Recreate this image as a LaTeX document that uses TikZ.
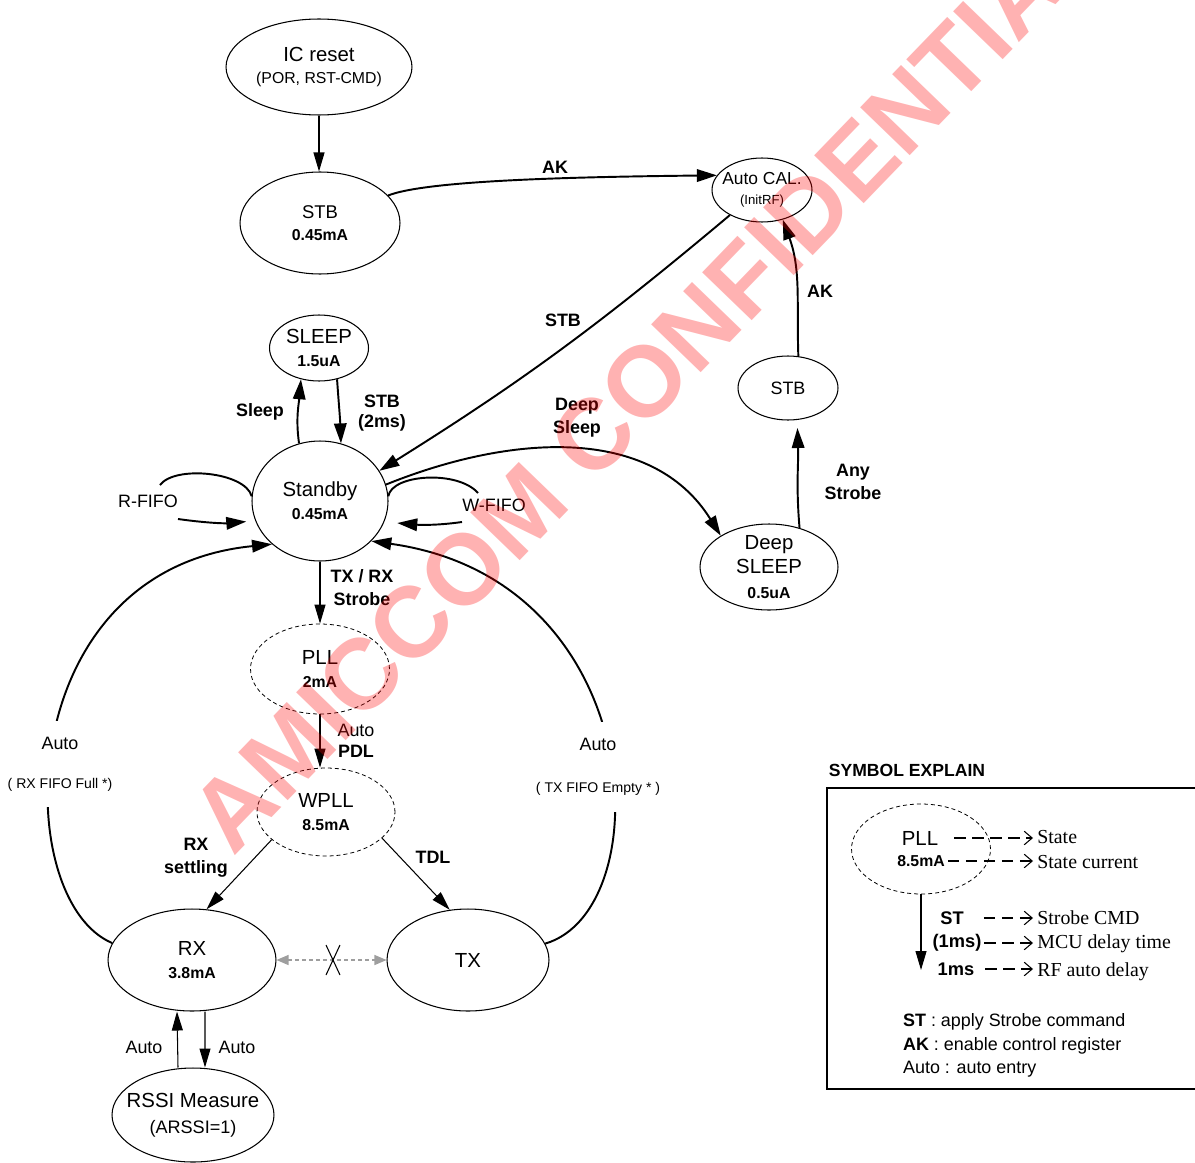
\documentclass[tikz,border=0pt]{standalone}
\usepackage{fontspec}
\setmainfont{Liberation Sans}
\newfontfamily\legserif{Liberation Serif}
\usetikzlibrary{shapes.geometric,arrows.meta}
\definecolor{wmred}{RGB}{255,0,0}
\definecolor{lgray}{RGB}{158,158,158}
\newcommand{\stcur}[1]{{\fontsize{9}{10}\selectfont\bfseries #1}}

\begin{document}
\begin{tikzpicture}[x=0.02cm,y=0.02cm,
  state/.style={draw,ellipse,line width=0.6pt,inner sep=0pt,align=center,
    font=\fontsize{11.6}{13}\selectfont},
  pstate/.style={state,line width=0.45pt,dash pattern=on 0.08cm off 0.06cm},
  esize/.style 2 args={minimum width=#1cm,minimum height=#2cm},
  lbl/.style={font=\fontsize{10.2}{13}\selectfont\bfseries,align=center,inner sep=1pt},
  rlbl/.style={font=\fontsize{10.2}{13}\selectfont,align=center,inner sep=1pt},
  arr/.style={line width=1.1pt,-{Triangle[length=0.4cm,width=0.25cm]}},
  arrthin/.style={line width=0.6pt,-{Triangle[length=0.38cm,width=0.22cm]}},
  loopline/.style={line width=1.1pt},
  dasharr/.style={line width=0.6pt,dash pattern=on 0.23cm off 0.13cm,
    -{Straight Barb[length=0.16cm,width=0.27cm]}},
  legtxt/.style={font=\legserif\fontsize{11.3}{13}\selectfont,anchor=west,inner sep=0pt}]

\useasboundingbox (0,0) rectangle (1195,-1162);
\clip (0,0) rectangle (1195,-1162);

% states
\node[state,esize={3.72}{1.92}] (ic) at (319,-67)
  {IC reset\\{\fontsize{9}{10}\selectfont (POR, RST-CMD)}};
\node[state,esize={3.2}{2.04},font=\fontsize{10.5}{12.5}\selectfont] (stbA) at (320,-223)
  {STB\\\stcur{0.45mA}};
\node[state,esize={2.0}{1.28},inner xsep=-3pt,font=\fontsize{9.9}{11.3}\selectfont] (cal) at (762,-190)
  {Auto CAL.\\{\fontsize{7.5}{8}\selectfont (InitRF)}};
\node[state,esize={1.98}{1.32}] (sleep) at (319,-348) {SLEEP\\\stcur{1.5uA}};
\node[state,esize={2.72}{2.4}] (stby) at (320,-501) {Standby\\\stcur{0.45mA}};
\node[state,esize={2.0}{1.28},font=\fontsize{10.2}{12}\selectfont] (stbR) at (788,-388) {STB};
\node[state,esize={2.76}{1.72},inner ysep=-4pt,font=\fontsize{11.6}{14}\selectfont] (deep) at (769,-567)
  {Deep\\SLEEP\\\stcur{0.5uA}};
\node[pstate,esize={2.78}{1.8}] (pll) at (320,-669) {PLL\\\stcur{2mA}};
\node[pstate,esize={2.76}{1.76}] (wpll) at (326,-812) {WPLL\\\stcur{8.5mA}};
\node[state,esize={3.36}{2.04}] (rx) at (192,-960) {RX\\\stcur{3.8mA}};
\node[state,esize={3.24}{2.04}] (tx) at (468,-960) {TX};
\node[state,esize={3.24}{1.88},inner xsep=-6pt,font=\fontsize{11.6}{15}\selectfont] (rssi) at (193,-1115)
  {RSSI Measure\\{\fontsize{10.3}{12}\selectfont (ARSSI=1)}};

% transitions
\draw[arrthin] (ic.south) -- (ic.south |- stbA.north);
\draw[arr] (stbA.22) .. controls (425,-181) and (560,-177) .. (cal.162);
\node[lbl] (lak1) at (555,-167) {AK};
\draw[arr] (cal.218) to[out=220,in=32] (stby.27);
\node[lbl] (lstb1) at (563,-320) {STB};
\draw[arr] (stbR.72) to[out=92,in=-70] (cal.-55);
\node[lbl] (lak2) at (820,-291) {AK};
\draw[arr,shorten >=0.16cm] (deep.52) to[out=95,in=-88] (stbR.-74);
\node[lbl] (lany) at (853,-482) {Any\\Strobe};
\draw[arr] (stby.14) to[out=22,in=122] (deep.147);
\node[lbl] (ldeep) at (577,-418) {Deep\\Sleep};
\draw[arr] (stby.110) to[out=98,in=-95] (sleep.240);
\node[lbl] (lsleep) at (260,-412) {Sleep};
\draw[arr] (sleep.300) to[out=-86,in=92] (stby.70);
\node[lbl] (lstb2) at (382,-413) {STB\\[-2pt](2ms)};

% FIFO loops
\node[rlbl] (rfifo) at (148,-501) {R-FIFO};
\coordinate (rf1) at (160,-485);
\coordinate (rf2) at (178,-519);
\draw[loopline] (stby.176) .. controls (245,-472) and (175,-465) .. (rf1);
\draw[arr,shorten >=0.18cm] (rf2) to[out=-8,in=185] (stby.197);
\node[rlbl] (wfifo) at (494,-505) {W-FIFO};
\coordinate (wf1) at (478,-493);
\coordinate (wf2) at (462,-522);
\draw[loopline] (stby.4) .. controls (392,-474) and (458,-470) .. (wf1);
\draw[arr,shorten >=0.26cm] (wf2) to[out=188,in=-5] (stby.-18);

% TX / RX path
\draw[arrthin] (stby.south) -- (pll.north);
\node[lbl] (lstrobe) at (362,-588) {TX / RX\\Strobe};
\draw[arrthin] (pll.south) -- (pll.south |- wpll.north);
\node[rlbl] (lpdl) at (356,-741) {Auto\\[-1pt]\textbf{PDL}};
\draw[arrthin] (wpll.207) -- (rx.74);
\node[lbl] (lrxs) at (196,-858) {RX\\settling};
\draw[arrthin] (wpll.-25) -- (tx.110);
\node[lbl] (ltdl) at (433,-857) {TDL};

\draw[arr] (rx.168) .. controls (10,-900) and (10,-570) .. (stby.222);
\node[rlbl,fill=white,inner ysep=9pt] (lrxf) at (60,-764)
  {Auto\\[9pt]{\fontsize{8}{9}\selectfont ( RX FIFO Full *)}};
\draw[arr] (tx.12) .. controls (660,-910) and (650,-580) .. (stby.-38);
\node[rlbl,fill=white,inner ysep=9pt] (ltxe) at (598,-767)
  {Auto\\[11pt]{\fontsize{8}{9}\selectfont ( TX FIFO Empty * )}};

\draw[lgray,line width=0.6pt,dash pattern=on 0.08cm off 0.06cm,
  {Triangle[length=0.24cm,width=0.2cm]}-{Triangle[length=0.24cm,width=0.2cm]}] (rx.east) -- (tx.west);
\coordinate (xm) at (333,-960);
\draw[line width=0.6pt] (xm) ++(-7,15) -- ++(14,-30);
\draw[line width=0.6pt] (xm) ++(7,15) -- ++(-14,-30);

\draw[arrthin] ([xshift=0.26cm]rx.south) -- ([xshift=0.24cm]rssi.north);
\draw[arrthin] ([xshift=-0.3cm]rssi.north) -- ([xshift=-0.3cm]rx.south);
\node[rlbl] (lauto1) at (144,-1047) {Auto};
\node[rlbl] (lauto2) at (237,-1047) {Auto};

% symbol explain
\node[font=\fontsize{10}{12}\selectfont\bfseries] (symt) at (907,-770) {SYMBOL EXPLAIN};
\draw[line width=0.8pt] (827,-788) rectangle (1215,-1089);
\node[pstate,esize={2.78}{1.8}] (legell) at (921,-849) {};
\node[font=\fontsize{11.6}{13}\selectfont,inner sep=1pt] (legpll) at (920,-838) {PLL};
\node[font=\fontsize{9}{10}\selectfont\bfseries,inner sep=1pt] (legcur) at (921,-861) {8.5mA};
\node[legtxt] (tstate) at (1037,-837) {State};
\node[legtxt] (tcur) at (1037,-862) {State current};
\draw[dasharr,shorten <=0.28cm,shorten >=0.08cm] (legpll.east) -- (legpll.east -| tstate.west);
\draw[dasharr,shorten <=0.02cm,shorten >=0.08cm] (legcur.east) -- (legcur.east -| tcur.west);
\coordinate (legtip) at (921,-970);
\draw[arrthin] (legell.south) -- (legtip);
\node[font=\fontsize{10.4}{12}\selectfont\bfseries,inner sep=1pt] (lst) at (952,-918) {ST};
\node[font=\fontsize{10.4}{12}\selectfont\bfseries,inner sep=1pt] (lms1) at (957,-943) {(1ms)};
\node[font=\fontsize{10.4}{12}\selectfont\bfseries,inner sep=1pt] (lms2) at (956,-969) {1ms};
\node[legtxt] (tstr) at (1037,-918) {Strobe CMD};
\node[legtxt] (tmcu) at (1037,-944) {MCU delay time};
\node[legtxt] (trf) at (1037,-972) {RF auto delay};
\draw[dasharr,shorten <=0.36cm,shorten >=0.08cm] (lst.east) -- (lst.east -| tstr.west);
\draw[dasharr,shorten <=0.02cm,shorten >=0.08cm] (lms1.east) -- (lms1.east -| tmcu.west);
\draw[dasharr,shorten <=0.18cm,shorten >=0.08cm] (lms2.east) -- (lms2.east -| trf.west);
\node[rlbl,anchor=west] (key1) at (901,-1022) {\textbf{ST} : apply Strobe command};
\node[rlbl,anchor=west] (key2) at (901,-1046) {\textbf{AK} : enable control register};
\node[rlbl,anchor=west] (key3) at (901,-1069) {Auto : auto entry};

% watermark
\node[font=\fontsize{57}{57}\selectfont\bfseries,text=wmred,text opacity=0.3,rotate=46]
  (wm) at (647,-379) {AMICCOM CONFIDENTIAL};
\end{tikzpicture}
\end{document}
